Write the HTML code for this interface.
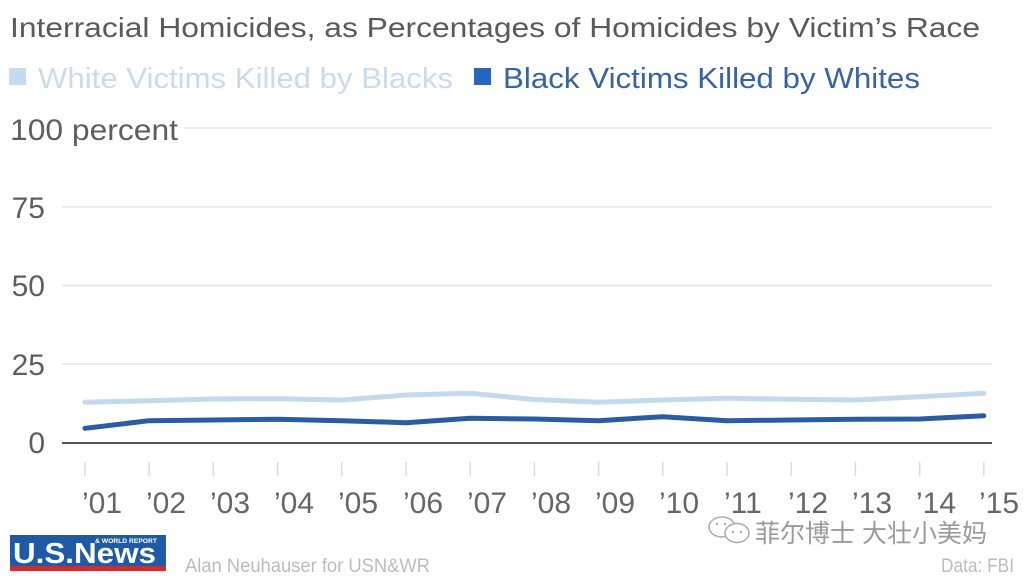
<!DOCTYPE html>
<html>
<head>
<meta charset="utf-8">
<style>
html,body{margin:0;padding:0;background:#fff;}
body{width:1024px;height:576px;overflow:hidden;}
svg{display:block;}
text{font-family:"Liberation Sans","Noto Sans CJK SC",sans-serif;}
</style>
</head>
<body>
<svg width="1024" height="576" viewBox="0 0 1024 576" xmlns="http://www.w3.org/2000/svg">
  <rect width="1024" height="576" fill="#fff"/>
  <!-- Title -->
  <text x="10" y="37" font-size="28" fill="#5a5a5a" textLength="970" lengthAdjust="spacingAndGlyphs">Interracial Homicides, as Percentages of Homicides by Victim’s Race</text>
  <!-- Legend -->
  <rect x="9" y="68" width="17" height="17" fill="#c6dcee"/>
  <text x="38" y="88" font-size="29" fill="#c9dceb" textLength="415" lengthAdjust="spacingAndGlyphs">White Victims Killed by Blacks</text>
  <rect x="474" y="68" width="17" height="17" fill="#2866bd"/>
  <text x="503" y="88" font-size="29" fill="#3563a6" textLength="417" lengthAdjust="spacingAndGlyphs">Black Victims Killed by Whites</text>

  <!-- Gridlines -->
  <g stroke="#e3e3e3" stroke-width="1.5">
    <line x1="185" y1="128" x2="992" y2="128"/>
    <line x1="62" y1="207" x2="992" y2="207"/>
    <line x1="62" y1="285.5" x2="992" y2="285.5"/>
    <line x1="62" y1="364" x2="992" y2="364"/>
  </g>
  <line x1="62" y1="443" x2="992" y2="443" stroke="#555" stroke-width="2"/>

  <!-- Y labels -->
  <text x="10" y="140" font-size="30" fill="#5e5e5e" textLength="168" lengthAdjust="spacingAndGlyphs">100 percent</text>
  <g font-size="30" fill="#5e5e5e" text-anchor="end">
    <text x="45" y="218">75</text>
    <text x="45" y="296">50</text>
    <text x="45" y="375">25</text>
    <text x="45" y="453">0</text>
  </g>

  <!-- Ticks -->
  <g stroke="#dcdcdc" stroke-width="1.5">
    <line x1="85" y1="462" x2="85" y2="476"/>
    <line x1="149.2" y1="462" x2="149.2" y2="476"/>
    <line x1="213.4" y1="462" x2="213.4" y2="476"/>
    <line x1="277.6" y1="462" x2="277.6" y2="476"/>
    <line x1="341.8" y1="462" x2="341.8" y2="476"/>
    <line x1="406" y1="462" x2="406" y2="476"/>
    <line x1="470.2" y1="462" x2="470.2" y2="476"/>
    <line x1="534.4" y1="462" x2="534.4" y2="476"/>
    <line x1="598.6" y1="462" x2="598.6" y2="476"/>
    <line x1="662.8" y1="462" x2="662.8" y2="476"/>
    <line x1="727" y1="462" x2="727" y2="476"/>
    <line x1="791.2" y1="462" x2="791.2" y2="476"/>
    <line x1="855.4" y1="462" x2="855.4" y2="476"/>
    <line x1="919.6" y1="462" x2="919.6" y2="476"/>
    <line x1="983.8" y1="462" x2="983.8" y2="476"/>
  </g>

  <!-- X labels -->
  <g font-size="30" fill="#666">
    <text x="82" y="513">’01</text>
    <text x="146" y="513">’02</text>
    <text x="210" y="513">’03</text>
    <text x="274" y="513">’04</text>
    <text x="338" y="513">’05</text>
    <text x="403" y="513">’06</text>
    <text x="467" y="513">’07</text>
    <text x="531" y="513">’08</text>
    <text x="595" y="513">’09</text>
    <text x="659" y="513">’10</text>
    <text x="724" y="513">’11</text>
    <text x="788" y="513">’12</text>
    <text x="852" y="513">’13</text>
    <text x="916" y="513">’14</text>
    <text x="979" y="513">’15</text>
  </g>

  <!-- Series -->
  <polyline fill="none" stroke="#c4d9eb" stroke-width="5" stroke-linejoin="round" stroke-linecap="round"
    points="85,402.3 149.2,400.7 213.4,399 277.6,398.7 341.8,400 406,395 470.2,393.3 534.4,399.5 598.6,402.3 662.8,400 727,398.3 791.2,399.3 855.4,400 919.6,396.7 983.8,393.3"/>
  <polyline fill="none" stroke="#2a5ca3" stroke-width="5" stroke-linejoin="round" stroke-linecap="round"
    points="85,428.3 149.2,420.7 213.4,420 277.6,419.3 341.8,420.7 406,422.7 470.2,418.3 534.4,419 598.6,420.7 662.8,416.7 727,420.7 791.2,420 855.4,419.3 919.6,419 983.8,415.7"/>

  <!-- Watermark -->
  <g fill="none" stroke="#aaa" stroke-width="1.5">
    <ellipse cx="722" cy="527" rx="13" ry="10"/>
    <ellipse cx="737" cy="533" rx="12" ry="9.5" fill="#fff"/>
  </g>
  <g fill="#aaa">
    <circle cx="733" cy="532" r="1.2"/>
    <circle cx="741" cy="532" r="1.2"/>
    <circle cx="717" cy="524" r="1.2"/>
    <circle cx="725" cy="524" r="1.2"/>
  </g>
  <text x="755" y="542" font-size="25" fill="#9a9a9a" textLength="232" lengthAdjust="spacingAndGlyphs" style="font-family:'Liberation Sans','Noto Sans CJK SC',sans-serif;">菲尔博士 大壮小美妈</text>

  <!-- Footer logo -->
  <rect x="10" y="535" width="156" height="31" fill="#1f5aa6"/>
  <rect x="10" y="566" width="156" height="5" fill="#d42a2a"/>
  <text x="13" y="563" font-size="29" font-weight="bold" fill="#fff" textLength="143" lengthAdjust="spacingAndGlyphs">U.S.News</text>
  <text x="95" y="543" font-size="6" font-weight="bold" fill="#fff" textLength="62" lengthAdjust="spacingAndGlyphs">&amp; WORLD REPORT</text>

  <text x="185" y="572" font-size="19" fill="#bcbcbc" textLength="245" lengthAdjust="spacingAndGlyphs">Alan Neuhauser for USN&amp;WR</text>
  <text x="941" y="572" font-size="19" fill="#bcbcbc" textLength="73" lengthAdjust="spacingAndGlyphs">Data: FBI</text>
</svg>
</body>
</html>
